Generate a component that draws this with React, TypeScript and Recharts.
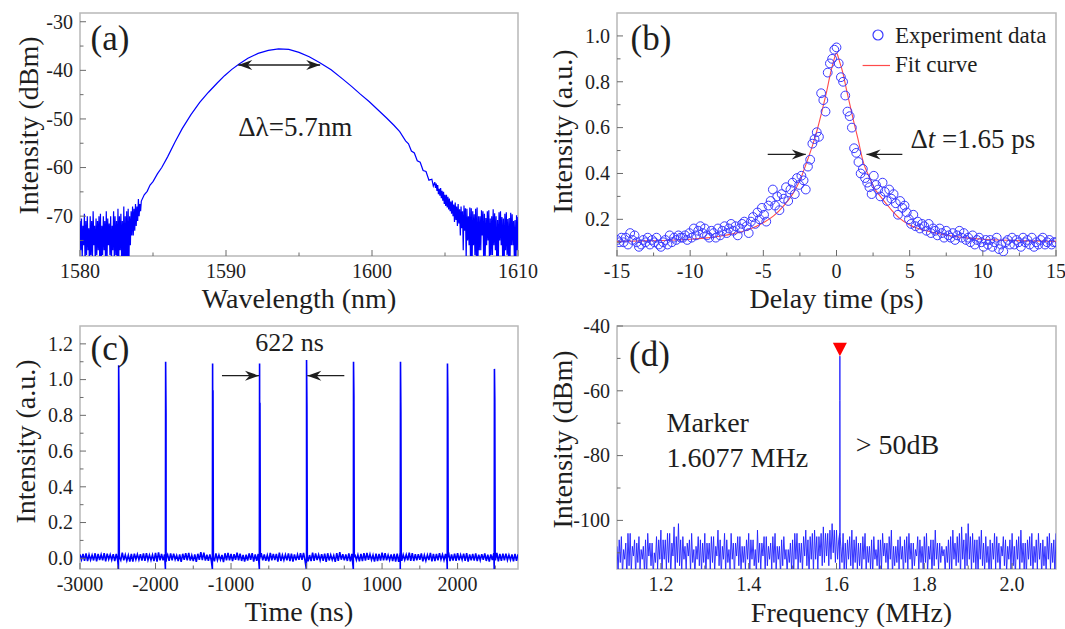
import {
  ComposedChart,
  Line,
  Scatter,
  XAxis,
  YAxis,
  ReferenceArea,
  ReferenceDot,
  ReferenceLine,
  Legend,
} from 'recharts';

const FONT = 'Liberation Serif, Times New Roman, serif';
const INK = '#1e1e1e';
const FRAME = '#b8b8b8';
const TICK = '#6a6a6a';
const BLUE = '#0000ff';
const CIRCLE = '#3a3aff';
const FIT = '#ff4a4a';

// ---- (a) optical spectrum: noisy wings read as upper / lower excursions ----
const specStep = 0.1;
const specLeftTopStart = 1580.0;
const specLeftTop = [
  -71, -70.5, -72, -69.5, -71, -70, -72.5, -70, -71, -69,
  -72, -70.5, -71, -70, -69.5, -72, -70, -71, -69, -70.5,
  -71.5, -70, -72, -69, -70, -71, -68.5, -70, -69.5, -71,
  -68, -70, -69, -68.5, -70, -69, -68, -68.5, -67.5, -68,
  -66.5, -67.5,
];
const specLeftBottomStart = 1580.05;
const specLeftBottom = [
  -77, -79, -76, -80, -78, -77, -81, -78, -79, -76,
  -80, -78, -77, -79, -81, -78, -77, -80, -79, -76,
  -78, -80, -77, -79, -78, -81, -80, -77, -79, -82,
  -83, -81, -82, -80, -76, -74, -74, -73, -72, -71,
  -70, -69,
];
const specMain: [number, number][] = [
  [1584.2, -66.9], [1584.4, -65.6], [1584.6, -64.9], [1584.8, -63.6], [1585.0, -62.9], [1585.3, -61.3],
  [1585.6, -60.0], [1586.0, -57.8], [1586.5, -54.8], [1587.0, -52.0], [1587.6, -49.1], [1588.2, -46.6],
  [1588.8, -44.5], [1589.4, -42.6], [1589.9, -41.1], [1590.4, -39.8], [1590.9, -38.7], [1591.5, -37.5],
  [1592.2, -36.5], [1592.9, -35.9], [1593.6, -35.6], [1594.3, -35.7], [1595.0, -36.3], [1595.7, -37.2],
  [1596.4, -38.4], [1597.2, -39.9], [1598.0, -41.8], [1598.6, -43.3], [1599.2, -44.9], [1599.8, -46.4],
  [1600.4, -48.1], [1601.0, -49.8], [1601.5, -51.3], [1601.9, -52.6], [1602.3, -54.5], [1602.5, -55.1],
  [1602.7, -56.6], [1602.9, -57.0], [1603.1, -58.6], [1603.3, -58.9], [1603.5, -60.6], [1603.7, -60.8],
  [1603.9, -62.6], [1604.1, -62.4], [1604.2, -63.8],
];
const specRightTopStart = 1604.3;
const specRightTop = [
  -63.0, -63.3, -63.6, -64.4, -64.2, -64.8, -65.0, -65.6, -65.6, -66.0,
  -66.4, -67.0, -66.8, -67.6, -67.2, -68.0, -67.5, -68.6, -68.0, -69.0,
  -67.8, -68.4, -68.5, -70.0, -68.2, -68.4, -69.0, -69.6, -68.5, -68.2,
  -70.0, -70.0, -68.8, -69.0, -69.5, -70.4, -69.0, -68.8, -70.5, -70.0,
  -68.6, -69.4, -70.0, -70.8, -69.2, -69.0, -70.2, -70.5, -69.5, -69.2,
  -70.6, -70.4, -69.3, -69.6, -71.0, -70.8, -69.8, -70.2,
];
const specRightBottomStart = 1604.35;
const specRightBottom = [
  -64.2, -64.8, -65.5, -65.8, -66.3, -66.8, -67.5, -67.9, -68.2, -68.6,
  -69.0, -69.5, -70.0, -71.2, -70.8, -72.0, -71.5, -74.0, -72.5, -77.0,
  -73.0, -79.0, -75.0, -76.0, -80.0, -82.0, -76.0, -78.0, -80.0, -81.0,
  -77, -77, -74, -80, -79, -76, -75, -81, -78, -78,
  -76, -77, -81, -80, -75, -76, -79, -81, -77, -78,
  -80, -80, -76, -76, -79, -82, -77,
];

// ---- (b) autocorrelation ----
const acStart = -15;
const acStep = 0.15;
const acData = [
  0.11, 0.10, 0.12, 0.10, 0.12, 0.09, 0.14, 0.11, 0.13, 0.10,
  0.08, 0.09, 0.11, 0.10, 0.12, 0.09, 0.11, 0.10, 0.12, 0.09,
  0.08, 0.10, 0.11, 0.09, 0.13, 0.10, 0.12, 0.11, 0.13, 0.12,
  0.12, 0.13, 0.11, 0.14, 0.12, 0.16, 0.13, 0.15, 0.17, 0.14,
  0.16, 0.13, 0.12, 0.15, 0.14, 0.12, 0.16, 0.13, 0.15, 0.17,
  0.14, 0.16, 0.18, 0.15, 0.17, 0.13, 0.16, 0.18, 0.19, 0.17,
  0.14, 0.19, 0.21, 0.18, 0.23, 0.20, 0.25, 0.22, 0.19, 0.26,
  0.28, 0.33, 0.26, 0.30, 0.24, 0.31, 0.29, 0.34, 0.28, 0.33,
  0.36, 0.31, 0.38, 0.35, 0.39, 0.37, 0.33, 0.43, 0.46, 0.53,
  0.55, 0.58, 0.56, 0.75, 0.72, 0.67, 0.84, 0.88, 0.90, 0.94,
  0.95, 0.88, 0.82, 0.80, 0.74, 0.67, 0.65, 0.60, 0.51, 0.49,
  0.45, 0.40, 0.42, 0.38, 0.36, 0.34, 0.31, 0.39, 0.35, 0.33,
  0.30, 0.36, 0.32, 0.28, 0.33, 0.29, 0.31, 0.27, 0.22, 0.28,
  0.25, 0.26, 0.23, 0.20, 0.18, 0.22, 0.17, 0.19, 0.16, 0.18,
  0.17, 0.15, 0.18, 0.14, 0.16, 0.15, 0.13, 0.16, 0.14, 0.12,
  0.15, 0.13, 0.12, 0.14, 0.11, 0.13, 0.15, 0.12, 0.14, 0.11,
  0.12, 0.10, 0.13, 0.09, 0.11, 0.12, 0.10, 0.08, 0.11, 0.09,
  0.11, 0.08, 0.10, 0.12, 0.07, 0.09, 0.06, 0.10, 0.11, 0.09,
  0.12, 0.09, 0.11, 0.10, 0.08, 0.12, 0.10, 0.11, 0.09, 0.12,
  0.08, 0.10, 0.09, 0.11, 0.12, 0.09, 0.10, 0.11, 0.09, 0.10,
  0.10,
];
const acFit: [number, number][] = [
  [-15, 0.104], [-13, 0.106], [-11, 0.11], [-10, 0.113], [-9, 0.118], [-8, 0.126], [-7, 0.138], [-6, 0.156],
  [-5, 0.185], [-4.3, 0.215], [-3.6, 0.26], [-3, 0.31], [-2.5, 0.37], [-2, 0.455], [-1.6, 0.53], [-1.3, 0.595],
  [-1, 0.67], [-0.7, 0.75], [-0.4, 0.84], [-0.2, 0.89], [0, 0.925], [0.2, 0.89], [0.45, 0.835], [0.7, 0.76],
  [0.95, 0.69], [1.2, 0.62], [1.45, 0.555], [1.85, 0.445], [2.2, 0.39], [2.55, 0.34], [3, 0.3], [3.7, 0.245],
  [4.3, 0.205], [5, 0.175], [6, 0.152], [7, 0.137], [8, 0.126], [9, 0.118], [10, 0.113], [11, 0.11],
  [13, 0.106], [15, 0.104],
];

// ---- (c) pulse train ----
const trainStep = 40;
const trainTopStart = -3000;
const trainTop = [
  0.022, 0.024, 0.027, 0.02, 0.018, 0.028, 0.025, 0.021, 0.029, 0.026,
  0.02, 0.023, 0.024, 0.029, 0.031, 0.019, 0.017, 0.025, 0.026, 0.022,
  0.023, 0.027, 0.028, 0.018, 0.019, 0.03, 0.033, 0.024, 0.021, 0.02,
  0.027, 0.026, 0.016, 0.021, 0.025, 0.028, 0.03, 0.017, 0.022, 0.025,
  0.035, 0.032, 0.02, 0.022, 0.026, 0.027, 0.018, 0.019, 0.028, 0.03,
  0.024, 0.023, 0.031, 0.026, 0.019, 0.02, 0.027, 0.029, 0.022, 0.024,
  0.029, 0.021, 0.017, 0.03, 0.025, 0.025, 0.032, 0.018, 0.02, 0.027,
  0.026, 0.022, 0.021, 0.028, 0.03, 0.024, 0.018, 0.031, 0.027, 0.02,
  0.023, 0.026, 0.028, 0.019, 0.016, 0.029, 0.034, 0.023, 0.021, 0.027,
  0.025, 0.021, 0.019, 0.025, 0.029, 0.03, 0.022, 0.018, 0.026, 0.024,
  0.031, 0.028, 0.018, 0.022, 0.024, 0.026, 0.027, 0.02, 0.02, 0.031,
  0.028, 0.023, 0.023, 0.027, 0.017, 0.019, 0.03, 0.025, 0.025, 0.029,
  0.021, 0.024, 0.033, 0.021, 0.026, 0.028, 0.019, 0.026, 0.029, 0.022,
  0.024, 0.027, 0.02, 0.023, 0.027, 0.02, 0.022, 0.029, 0.03, 0.024,
  0.026, 0.026, 0.018, 0.021, 0.025, 0.022,
];
const trainBottomStart = -2980;
const trainBottom = [
  -0.008, -0.014, -0.016, -0.009, -0.012, -0.017, -0.01, -0.012, -0.017, -0.006,
  -0.009, -0.016, -0.014, -0.011, -0.011, -0.013, -0.018, -0.019, -0.007, -0.008,
  -0.013, -0.015, -0.01, -0.01, -0.016, -0.018, -0.012, -0.012, -0.019, -0.014,
  -0.011, -0.007, -0.015, -0.02, -0.008, -0.011, -0.013, -0.016, -0.02, -0.009,
  -0.01, -0.013, -0.014, -0.017, -0.017, -0.01, -0.009, -0.021, -0.012, -0.012,
  -0.016, -0.008, -0.011, -0.015, -0.019, -0.013, -0.008, -0.018, -0.014, -0.006,
  -0.012, -0.014, -0.017, -0.011, -0.01, -0.019, -0.015, -0.01, -0.011, -0.016,
  -0.018, -0.012, -0.009, -0.008, -0.013, -0.017, -0.016, -0.014, -0.01, -0.011,
  -0.014, -0.02, -0.012, -0.009, -0.02, -0.015, -0.008, -0.012, -0.015, -0.017,
  -0.011, -0.01, -0.017, -0.016, -0.013, -0.008, -0.009, -0.018, -0.016, -0.013,
  -0.012, -0.011, -0.01, -0.015, -0.018, -0.02, -0.014, -0.009, -0.011, -0.014,
  -0.015, -0.012, -0.009, -0.017, -0.013, -0.01, -0.017, -0.016, -0.012, -0.007,
  -0.01, -0.019, -0.016, -0.013, -0.014, -0.011, -0.008, -0.015, -0.019, -0.012,
  -0.013, -0.016, -0.011, -0.009, -0.015, -0.018, -0.01, -0.011, -0.017, -0.014,
  -0.012, -0.01, -0.009, -0.017, -0.014,
];
const pulseCenters = [-2488, -1866, -1244, -622, 0, 622, 1244, 1866, 2488];
const pulseTops = [1.08, 1.1, 1.09, 1.09, 1.11, 1.1, 1.1, 1.09, 1.06];
const pulseBodies = [0.84, 0.81, 0.94, 0.87, 0.85, 0.91, 0.82, 0.89, 0.88];
const pulseFloor = -0.06;

// ---- (d) RF spectrum ----
const rfStep = 0.005;
const rfTopStart = 1.1;
const rfTop = [
  -108, -106, -105, -109, -107, -104, -104, -108, -106, -107,
  -105, -109, -108, -106, -104, -107, -107, -110, -105, -106,
  -103, -106, -106, -104, -104, -107, -102, -105, -101, -106,
  -105, -108, -107, -106, -104, -109, -108, -105, -106, -107,
  -104, -107, -107, -105, -105, -108, -103, -106, -108, -104,
  -106, -109, -104, -107, -107, -105, -105, -108, -108, -106,
  -104, -106, -106, -109, -103, -107, -107, -105, -105, -108,
  -107, -105, -104, -108, -108, -106, -105, -109, -109, -107,
  -106, -104, -104, -107, -107, -105, -103, -106, -105, -104,
  -103, -105, -105, -104, -102, -104, -104, -103, -101, -103,
  -103, -106, -108, -104, -107, -106, -105, -103, -106, -105,
  -107, -107, -105, -104, -108, -108, -106, -105, -109, -106,
  -106, -104, -107, -107, -105, -103, -108, -108, -106, -105,
  -108, -106, -105, -104, -107, -107, -109, -105, -106, -108,
  -105, -104, -108, -106, -106, -103, -107, -107, -108, -109,
  -108, -106, -105, -103, -107, -105, -104, -102, -106, -104,
  -101, -105, -104, -106, -106, -105, -103, -107, -105, -108,
  -106, -107, -104, -105, -107, -108, -105, -106, -108, -106,
  -104, -108, -106, -105, -103, -107, -107, -106, -105, -104,
  -108, -106, -104, -107, -106, -108, -105, -104, -107, -106,
  -104,
];
const rfBottomStart = 1.1025;
const rfBottom = [
  -116, -113, -117, -112, -118, -114, -116, -111, -117, -113,
  -115, -112, -116, -118, -111, -114, -117, -113, -115, -112,
  -117, -112, -115, -113, -117, -111, -116, -113, -114, -116,
  -112, -115, -111, -116, -113, -117, -112, -114, -116, -113,
  -117, -112, -115, -113, -116, -111, -114, -117, -112, -116,
  -113, -115, -112, -117, -111, -114, -116, -113, -115, -112,
  -116, -112, -114, -117, -113, -115, -111, -116, -114, -112,
  -115, -113, -116, -112, -117, -114, -112, -116, -113, -115,
  -117, -112, -115, -113, -116, -111, -114, -117, -112, -116,
  -112, -115, -111, -114, -113, -111, -114, -112, -110, -113,
  -112, -117, -113, -116, -115, -112, -114, -116, -113, -115,
  -114, -117, -112, -116, -113, -115, -117, -112, -114, -116,
  -115, -111, -113, -116, -112, -117, -114, -113, -115, -112,
  -117, -113, -115, -112, -116, -114, -111, -116, -113, -115,
  -113, -116, -112, -117, -114, -112, -115, -113, -111, -116,
  -113, -115, -116, -112, -114, -113, -117, -112, -115, -114,
  -112, -116, -113, -115, -117, -112, -114, -116, -113, -117,
  -116, -112, -115, -113, -117, -111, -114, -116, -112, -115,
  -114, -117, -112, -116, -113, -115, -117, -112, -114, -116,
  -113, -115, -112, -117, -114, -116, -112, -115, -113, -117,
];
const rfPeak: [number, number][] = [
  [1.6072, -104], [1.6076, -63], [1.6077, -49.3], [1.6078, -63], [1.6082, -105],
];
const markerFreq = 1.6077;
const markerLevel = -49.3;

type Pt = { x: number; y: number };
const grid = (start: number, step: number, ys: number[]): Pt[] =>
  ys.map((y, i) => ({ x: +(start + i * step).toFixed(5), y }));
const pairs = (ps: [number, number][]): Pt[] => ps.map(([x, y]) => ({ x, y }));
const byX = (a: Pt, b: Pt) => a.x - b.x;

const spectrum = [
  ...grid(specLeftTopStart, specStep, specLeftTop),
  ...grid(specLeftBottomStart, specStep, specLeftBottom),
  ...pairs(specMain),
  ...grid(specRightTopStart, specStep, specRightTop),
  ...grid(specRightBottomStart, specStep, specRightBottom),
].sort(byX);
const acPoints = grid(acStart, acStep, acData);
const fitPoints = pairs(acFit);
const train = [
  ...grid(trainTopStart, trainStep, trainTop),
  ...grid(trainBottomStart, trainStep, trainBottom),
  ...pulseCenters.flatMap((c, i) => [
    { x: c - 3, y: pulseFloor },
    { x: c, y: pulseTops[i] },
    { x: c + 5, y: pulseBodies[i] },
    { x: c + 10, y: 0.005 },
  ]),
].sort(byX);
const rf = [
  ...grid(rfTopStart, rfStep, rfTop),
  ...grid(rfBottomStart, rfStep, rfBottom),
  ...pairs(rfPeak),
].sort(byX);

// ---- helpers ----
const near = (v: number, list: number[]) => list.some((m) => Math.abs(m - v) < 1e-6);
const txt = { fontFamily: FONT };

function xTick(majors: number[], fmt: (v: number) => string) {
  return (p: any) => {
    const v = p.payload.value;
    const major = near(v, majors);
    return (
      <g>
        <line x1={p.x} x2={p.x} y1={p.y} y2={p.y - (major ? 6 : 3.5)} stroke={TICK} strokeWidth={1} />
        {major && (
          <text x={p.x} y={p.y + 22} textAnchor="middle" style={txt} fontSize={20} fill={INK}>
            {fmt(v)}
          </text>
        )}
      </g>
    );
  };
}

function yTick(majors: number[], fmt: (v: number) => string) {
  return (p: any) => {
    const v = p.payload.value;
    const major = near(v, majors);
    return (
      <g>
        <line x1={p.x} x2={p.x + (major ? 6 : 3.5)} y1={p.y} y2={p.y} stroke={TICK} strokeWidth={1} />
        {major && (
          <text x={p.x - 7} y={p.y} dy="0.34em" textAnchor="end" style={txt} fontSize={20} fill={INK}>
            {fmt(v)}
          </text>
        )}
      </g>
    );
  };
}

const xTitle = (text: string, baseline: number, dx = 0) => ({
  content: (p: any) => {
    const vb = p.viewBox ?? { x: 0, y: 0, width: 0, height: 0 };
    return (
      <text x={vb.x + vb.width / 2 + dx} y={vb.y + baseline} textAnchor="middle" style={txt} fontSize={28} fill={INK}>
        {text}
      </text>
    );
  },
});

const yTitle = (text: string, cx: number, dy: number) => ({
  content: (p: any) => {
    const vb = p.viewBox ?? { x: 0, y: 0, width: 0, height: 0 };
    const x = vb.x + cx;
    const y = vb.y + vb.height / 2 + dy;
    return (
      <text x={x} y={y} transform={`rotate(-90 ${x} ${y})`} textAnchor="middle" dominantBaseline="central"
        style={txt} fontSize={28} fill={INK}>
        {text}
      </text>
    );
  },
});

const note = (content: React.ReactNode, size = 27) => (p: any) => (
  <text x={p.cx} y={p.cy} style={txt} fontSize={size} fill={INK}>
    {content}
  </text>
);

function arrow(both: boolean) {
  return (p: any) => {
    const { x1, y1, x2, y2 } = p;
    const ang = Math.atan2(y2 - y1, x2 - x1);
    const head = (x: number, y: number, a: number) => {
      const c = Math.cos(a);
      const s = Math.sin(a);
      const pt = (dx: number, dy: number) => `${x + dx * c - dy * s},${y + dx * s + dy * c}`;
      return <path d={`M${pt(0, 0)} L${pt(-14, -5)} L${pt(-9.5, 0)} L${pt(-14, 5)} Z`} fill={INK} />;
    };
    return (
      <g>
        <line x1={x1} y1={y1} x2={x2} y2={y2} stroke={INK} strokeWidth={1.3} />
        {head(x2, y2, ang)}
        {both && head(x1, y1, ang + Math.PI)}
      </g>
    );
  };
}

const markerShape = (p: any) => (
  <path d={`M${p.cx},${p.cy} L${p.cx - 7},${p.cy - 13.5} L${p.cx + 7},${p.cy - 13.5} Z`} fill="#ff0000" />
);

function FitLegend(props: any) {
  const items = [...(props.payload ?? [])].sort((a: any, b: any) =>
    a.type === 'circle' ? -1 : b.type === 'circle' ? 1 : 0,
  );
  return (
    <div style={{ fontFamily: FONT, fontSize: 23, color: INK, lineHeight: '29.4px' }}>
      {items.map((it: any) => (
        <div key={it.value} style={{ display: 'flex', alignItems: 'center', height: 29.4 }}>
          <svg width={35} height={29} style={{ display: 'block' }}>
            {it.type === 'circle' ? (
              <circle cx={18} cy={14} r={5} fill="none" stroke={CIRCLE} strokeWidth={1.2} />
            ) : (
              <line x1={2.6} x2={30} y1={14.5} y2={14.5} stroke={FIT} strokeWidth={1.2} />
            )}
          </svg>
          <span>{it.value}</span>
        </div>
      ))}
    </div>
  );
}

// panel geometry: chart boxes
const W_L = 545;
const W_R = 533;
const H = 314;
const M_LEFT = { top: 13, right: 27, bottom: 0, left: 0 };
const M_RIGHT = { top: 13, right: 9, bottom: 0, left: 0 };

// ticks
const aXMaj = [1580, 1590, 1600, 1610];
const aXMin = [1585, 1595, 1605];
const aYMaj = [-70, -60, -50, -40, -30];
const aYMin = [-75, -65, -55, -45, -35];
const bXMaj = [-15, -10, -5, 0, 5, 10, 15];
const bXMin = [-12.5, -7.5, -2.5, 2.5, 7.5, 12.5];
const bYMaj = [0.2, 0.4, 0.6, 0.8, 1.0];
const bYMin = [0.1, 0.3, 0.5, 0.7, 0.9];
const cXMaj = [-3000, -2000, -1000, 0, 1000, 2000];
const cXMin = [-2500, -1500, -500, 500, 1500, 2500];
const cYMaj = [0, 0.2, 0.4, 0.6, 0.8, 1.0, 1.2];
const cYMin = [0.1, 0.3, 0.5, 0.7, 0.9, 1.1];
const dXMaj = [1.2, 1.4, 1.6, 1.8, 2.0];
const dXMin = [1.3, 1.5, 1.7, 1.9];
const dYMaj = [-100, -80, -60, -40];
const dYMin = [-110, -90, -70, -50];

const aX: [number, number] = [1580, 1610];
const aY: [number, number] = [-78.2, -28.2];
const bX: [number, number] = [-15, 15];
const bY: [number, number] = [0.04, 1.1];
const cX: [number, number] = [-3000, 2800];
const cY: [number, number] = [-0.06, 1.3];
const dX: [number, number] = [1.1, 2.1];
const dY: [number, number] = [-115, -40];

const frame = (x: [number, number], y: [number, number]) => (
  <ReferenceArea x1={x[0]} x2={x[1]} y1={y[0]} y2={y[1]} fill="none" stroke={FRAME} strokeWidth={1.5} ifOverflow="visible" />
);

const sortNum = (a: number[], b: number[]) => [...a, ...b].sort((p, q) => p - q);

export default function App() {
  return (
    <div style={{ position: 'absolute', left: 0, top: 0, width: 1065, height: 629, background: '#fff', overflow: 'hidden' }}>
      {/* (a) */}
      <div style={{ position: 'absolute', left: 0, top: 0 }}>
        <ComposedChart width={W_L} height={H} margin={M_LEFT}>
          <XAxis dataKey="x" type="number" domain={aX} allowDataOverflow ticks={sortNum(aXMaj, aXMin)} interval={0}
            tickSize={0} tickMargin={0} axisLine={false} tickLine={false} height={58}
            tick={xTick(aXMaj, (v) => String(v))} label={xTitle('Wavelength (nm)', 51.5)} />
          <YAxis type="number" domain={aY} allowDataOverflow ticks={sortNum(aYMaj, aYMin)} interval={0}
            tickSize={0} tickMargin={0} axisLine={false} tickLine={false} width={80}
            tick={yTick(aYMaj, (v) => String(v))} label={yTitle('Intensity (dBm)', 28, -9)} />
          <Line data={spectrum} dataKey="y" type="linear" stroke={BLUE} strokeWidth={1.2} dot={false}
            activeDot={false} isAnimationActive={false} />
          {frame(aX, aY)}
          <ReferenceLine segment={[{ x: 1590.84, y: -38.9 }, { x: 1596.45, y: -38.9 }]} shape={arrow(true)} />
          <ReferenceDot x={1580.72} y={-35.8} shape={note('(a)', 35)} />
          <ReferenceDot x={1590.84} y={-53.6} shape={note('Δλ=5.7nm')} />
        </ComposedChart>
      </div>

      {/* (b) */}
      <div style={{ position: 'absolute', left: 532, top: 0 }}>
        <ComposedChart width={W_R} height={H} margin={M_RIGHT}>
          <XAxis dataKey="x" type="number" domain={bX} allowDataOverflow ticks={sortNum(bXMaj, bXMin)} interval={0}
            tickSize={0} tickMargin={0} axisLine={false} tickLine={false} height={58}
            tick={xTick(bXMaj, (v) => String(v))} label={xTitle('Delay time (ps)', 51.5)} />
          <YAxis type="number" domain={bY} allowDataOverflow ticks={sortNum(bYMaj, bYMin)} interval={0}
            tickSize={0} tickMargin={0} axisLine={false} tickLine={false} width={85}
            tick={yTick(bYMaj, (v) => v.toFixed(1))} label={yTitle('Intensity (a.u.)', 30.5, -3)} />
          <Scatter name="Experiment data" data={acPoints} dataKey="y" legendType="circle" fill={CIRCLE}
            isAnimationActive={false}
            shape={(p: any) => <circle cx={p.cx} cy={p.cy} r={4.4} fill="none" stroke={CIRCLE} strokeWidth={1} />} />
          <Line name="Fit curve" data={fitPoints} dataKey="y" type="monotone" stroke={FIT} strokeWidth={1.1} dot={false}
            activeDot={false} isAnimationActive={false} legendType="line" />
          {frame(bX, bY)}
          <ReferenceLine segment={[{ x: -4.7, y: 0.483 }, { x: -2.1, y: 0.483 }]} shape={arrow(false)} />
          <ReferenceLine segment={[{ x: 4.5, y: 0.483 }, { x: 2.05, y: 0.483 }]} shape={arrow(false)} />
          <ReferenceDot x={-14.07} y={0.939} shape={note('(b)', 35)} />
          <ReferenceDot x={5.05} y={0.51}
            shape={note(<><tspan>Δ</tspan><tspan fontStyle="italic">t</tspan><tspan> =1.65 ps</tspan></>)} />
          <Legend layout="vertical" align="center" verticalAlign="middle" content={FitLegend}
            wrapperStyle={{ left: 328, top: 21, width: 200 }} />
        </ComposedChart>
      </div>

      {/* (c) */}
      <div style={{ position: 'absolute', left: 0, top: 313 }}>
        <ComposedChart width={W_L} height={H} margin={M_LEFT}>
          <XAxis dataKey="x" type="number" domain={cX} allowDataOverflow ticks={sortNum(cXMaj, cXMin)} interval={0}
            tickSize={0} tickMargin={0} axisLine={false} tickLine={false} height={58}
            tick={xTick(cXMaj, (v) => String(v))} label={xTitle('Time (ns)', 51.5)} />
          <YAxis type="number" domain={cY} allowDataOverflow ticks={sortNum(cYMaj, cYMin)} interval={0}
            tickSize={0} tickMargin={0} axisLine={false} tickLine={false} width={80}
            tick={yTick(cYMaj, (v) => v.toFixed(1))} label={yTitle('Intensity (a.u.)', 25, -6)} />
          <Line data={train} dataKey="y" type="linear" stroke={BLUE} strokeWidth={1.6} dot={false}
            activeDot={false} isAnimationActive={false} />
          {frame(cX, cY)}
          <ReferenceLine segment={[{ x: -1120, y: 1.022 }, { x: -630, y: 1.022 }]} shape={arrow(false)} />
          <ReferenceLine segment={[{ x: 500, y: 1.022 }, { x: 10, y: 1.022 }]} shape={arrow(false)} />
          <ReferenceDot x={-2860} y={1.11} shape={note('(c)', 35)} />
          <ReferenceDot x={-680} y={1.16} shape={note('622 ns', 26)} />
        </ComposedChart>
      </div>

      {/* (d) */}
      <div style={{ position: 'absolute', left: 532, top: 313 }}>
        <ComposedChart width={W_R} height={H} margin={M_RIGHT}>
          <XAxis dataKey="x" type="number" domain={dX} allowDataOverflow ticks={sortNum(dXMaj, dXMin)} interval={0}
            tickSize={0} tickMargin={0} axisLine={false} tickLine={false} height={58}
            tick={xTick(dXMaj, (v) => v.toFixed(1))} label={xTitle('Frequency (MHz)', 53, 15)} />
          <YAxis type="number" domain={dY} allowDataOverflow ticks={sortNum(dYMaj, dYMin)} interval={0}
            tickSize={0} tickMargin={0} axisLine={false} tickLine={false} width={85}
            tick={yTick(dYMaj, (v) => String(v))} label={yTitle('Intensity (dBm)', 30.5, -8)} />
          <Line data={rf} dataKey="y" type="linear" stroke="#1f1fff" strokeWidth={0.9} dot={false}
            activeDot={false} isAnimationActive={false} />
          {frame(dX, dY)}
          <ReferenceDot x={markerFreq} y={markerLevel} shape={markerShape} />
          <ReferenceDot x={1.1273} y={-52.35} shape={note('(d)', 35)} />
          <ReferenceDot x={1.2128} y={-72.6} shape={note('Marker', 28)} />
          <ReferenceDot x={1.2128} y={-83.4} shape={note('1.6077 MHz', 28)} />
          <ReferenceDot x={1.644} y={-79.4} shape={note('> 50dB', 28)} />
        </ComposedChart>
      </div>
    </div>
  );
}
